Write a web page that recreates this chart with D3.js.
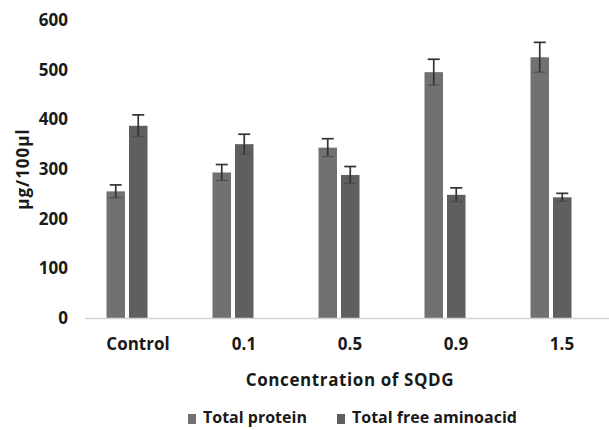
<!DOCTYPE html>
<html>
<head>
<meta charset="utf-8">
<script src="https://cdn.jsdelivr.net/npm/d3@7"></script>
<style>
  html, body { margin: 0; padding: 0; background: #fff; }
  text { font-family: "Open Sans", "Noto Sans", sans-serif; font-weight: 700; fill: #1a1a1a; }
</style>
</head>
<body>
<svg id="chart" width="609" height="430"></svg>
<script>
/* grouped bars with error bars: protein vs free aminoacid by SQDG concentration */
var categories = ["Control", "0.1", "0.5", "0.9", "1.5"];
var seriesNames = ["Total protein", "Total free aminoacid"];
var protein = [255, 293, 343, 495, 525];
var proteinErr = [13, 16, 18, 26, 30];
var amino = [387, 350, 288, 248, 243];
var aminoErr = [22, 20, 17, 14, 8];
var yTicks = [0, 100, 200, 300, 400, 500, 600];

var colors = { "Total protein": "#717171", "Total free aminoacid": "#5f5f5f" };

var W = 609, H = 430;
var svg = d3.select("#chart");

var y = d3.scaleLinear().domain([0, 600]).range([318, 20]);
var x0 = d3.scaleBand().domain(categories).range([74, 604])
  .paddingInner(0.6132).paddingOuter(0.3066);
var x1 = d3.scaleBand().domain(seriesNames).range([0, x0.bandwidth()]).paddingInner(0.178);

// rows: one per bar
var rows = [];
categories.forEach(function (c, i) {
  rows.push({ cat: c, s: seriesNames[0], v: protein[i], e: proteinErr[i] });
  rows.push({ cat: c, s: seriesNames[1], v: amino[i], e: aminoErr[i] });
});

// y tick labels (no axis line, no grid)
svg.append("g").selectAll("text").data(yTicks).enter().append("text")
  .attr("x", 68).attr("y", function (d) { return y(d); })
  .attr("dy", "0.35em").attr("text-anchor", "end")
  .style("font-size", "17px")
  .text(function (d) { return d; });

// bars
svg.append("g").selectAll("rect").data(rows).enter().append("rect")
  .attr("x", function (d) { return x0(d.cat) + x1(d.s); })
  .attr("y", function (d) { return y(d.v); })
  .attr("width", x1.bandwidth())
  .attr("height", function (d) { return y(0) - y(d.v); })
  .attr("fill", function (d) { return colors[d.s]; });

// baseline
svg.append("line")
  .attr("x1", 85).attr("x2", W).attr("y1", y(0) + 0.5).attr("y2", y(0) + 0.5)
  .attr("stroke", "#d4d4d4").attr("stroke-width", 1.5);

// error bars
var eb = svg.append("g").attr("stroke", "#333").attr("stroke-width", 1.7);
rows.forEach(function (d) {
  var cx = x0(d.cat) + x1(d.s) + x1.bandwidth() / 2;
  eb.append("line").attr("x1", cx).attr("x2", cx)
    .attr("y1", y(d.v - d.e)).attr("y2", y(d.v + d.e));
  eb.append("line").attr("x1", cx - 6).attr("x2", cx + 6)
    .attr("y1", y(d.v + d.e)).attr("y2", y(d.v + d.e));
  eb.append("line").attr("x1", cx - 6).attr("x2", cx + 6)
    .attr("y1", y(d.v - d.e)).attr("y2", y(d.v - d.e))
    .attr("stroke", "#4a4a4a").attr("stroke-width", 1);
});

// category labels (sit a bit right of the bar pairs in the original)
svg.append("g").selectAll("text").data(categories).enter().append("text")
  .attr("x", function (d) { return x0(d) + x0.bandwidth() / 2 + 11; })
  .attr("y", 350).attr("text-anchor", "middle")
  .style("font-size", "17px")
  .text(function (d) { return d; });

// axis titles
svg.append("text").attr("x", 350).attr("y", 386).attr("text-anchor", "middle")
  .style("font-size", "17px").style("letter-spacing", "0.6px").text("Concentration of SQDG");
svg.append("text")
  .attr("transform", "translate(23,169) rotate(-90)")
  .attr("dy", "0.35em").attr("text-anchor", "middle")
  .style("font-size", "17px").style("letter-spacing", "1px").text("µg/100µl");

// legend
var legX = [188, 337];
var leg = svg.append("g").selectAll("g").data(seriesNames).enter().append("g")
  .attr("transform", function (d, i) { return "translate(" + legX[i] + ",0)"; });
leg.append("rect").attr("x", 0).attr("y", 414).attr("width", 8).attr("height", 10)
  .attr("fill", function (d) { return colors[d]; });
leg.append("text").attr("x", 15).attr("y", 423)
  .style("font-size", "16px").text(function (d) { return d; });
</script>
</body>
</html>
